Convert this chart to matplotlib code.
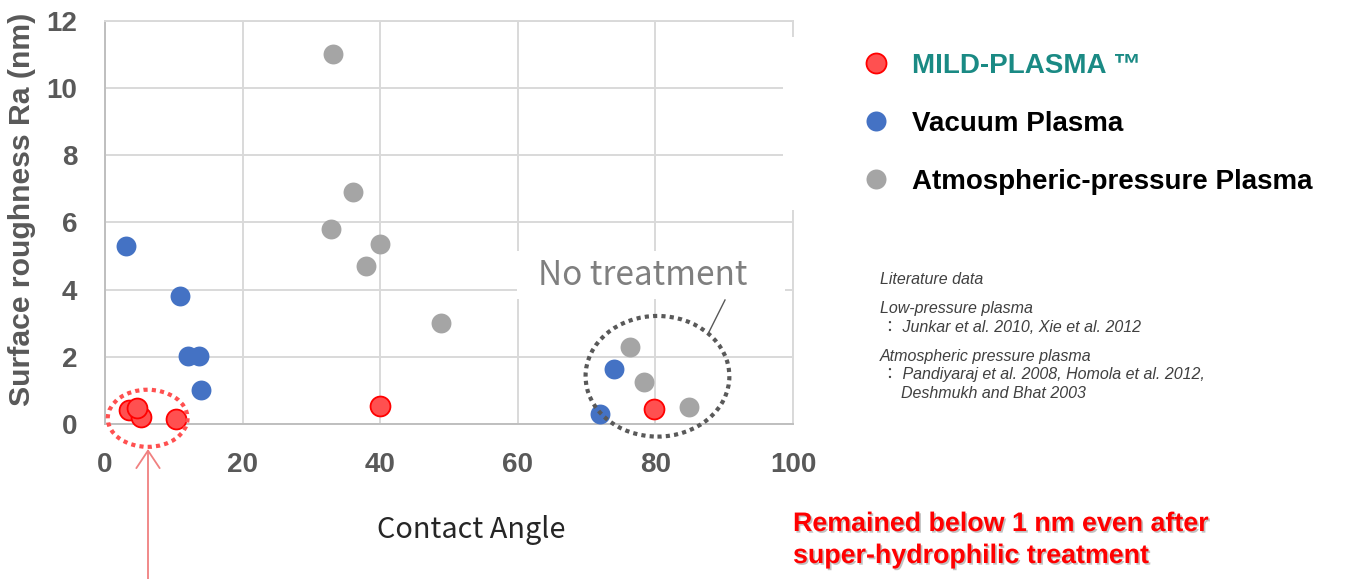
import matplotlib
matplotlib.use("Agg")
import matplotlib.pyplot as plt
import matplotlib.patheffects as pe
from matplotlib.patches import Ellipse, Rectangle, FancyArrowPatch
from matplotlib.lines import Line2D

plt.rcParams['font.family'] = ['Liberation Sans', 'Noto Sans CJK JP', 'DejaVu Sans']

# MILD-PLASMA (this work)
mild_x = [3.5, 5.3, 4.6, 10.3, 40.0, 79.8]
mild_y = [0.43, 0.22, 0.48, 0.16, 0.54, 0.45]
# vacuum (low-pressure) plasma, literature
vac_x = [3.0, 10.9, 12.0, 13.7, 13.95, 74.0, 71.9]
vac_y = [5.3, 3.8, 2.03, 2.03, 1.0, 1.64, 0.29]
# atmospheric-pressure plasma, literature
atm_x = [33.2, 36.1, 32.9, 40.0, 37.9, 48.8, 76.3, 78.3, 84.9]
atm_y = [11.0, 6.9, 5.8, 5.35, 4.7, 3.0, 2.3, 1.25, 0.5]

x_ticks = [0, 20, 40, 60, 80, 100]
y_ticks = [0, 2, 4, 6, 8, 10, 12]

W, H = 1346, 579
fig = plt.figure(figsize=(W / 100, H / 100), dpi=100)


def fx(x):
    return x / W


def fy(y):
    return 1 - y / H


ax = fig.add_axes([fx(105), fy(424), fx(793) - fx(105), fy(20.7) - fy(424)])
ax.set_xlim(0, 100)
ax.set_ylim(0, 12)
ax.set_xticks(x_ticks)
ax.set_yticks(y_ticks)
ax.grid(True, color='#d9d9d9', lw=1.4)
ax.set_axisbelow(True)
for s in ax.spines.values():
    s.set_color('#d9d9d9')
    s.set_linewidth(1.4)
ax.spines['left'].set_color('#bfbfbf')
ax.spines['bottom'].set_color('#bfbfbf')
ax.tick_params(length=0, labelsize=20, labelcolor='#595959', pad=20)
for lab in ax.get_xticklabels() + ax.get_yticklabels():
    lab.set_fontweight('bold')

ms = 205
ax.scatter(atm_x, atm_y, s=ms, color='#a5a5a5', lw=0, zorder=3, clip_on=False)
ax.scatter(vac_x, vac_y, s=ms, color='#4472c4', lw=0, zorder=3, clip_on=False)
ax.scatter(mild_x, mild_y, s=ms, facecolor='#ff5050', edgecolor='#ff0000', lw=1.3,
           zorder=4, clip_on=False)

# dotted ellipses
ax.add_patch(Ellipse((6.2, 0.17), 11.6, 1.7, fill=False, ec='#ff5050', lw=3,
                     ls=(0, (1, 1)), zorder=5, clip_on=False))
ax.add_patch(Ellipse((80.3, 1.42), 20.9, 3.59, fill=False, ec='#595959', lw=3,
                     ls=(0, (1, 1)), zorder=5, clip_on=False))

# "No treatment" callout box
fig.patches.append(Rectangle((fx(517), fy(299)), fx(785) - fx(517), fy(251) - fy(299),
                             transform=fig.transFigure, fc='white', ec='none', zorder=2))
fig.text(fx(643), fy(276), 'No treatment', fontsize=24, color='#7f7f7f',
         family=['Noto Sans CJK JP'], ha='center', va='center', zorder=3)
fig.add_artist(Line2D([fx(725), fx(708)], [fy(300), fy(334)], color='#595959', lw=1))

# white area of the legend box cutting the plot edge
fig.patches.append(Rectangle((fx(783), fy(210)), fx(800) - fx(783), fy(37) - fy(210),
                             transform=fig.transFigure, fc='white', ec='none', zorder=2))

fig.text(fx(471), fy(530), 'Contact Angle', fontsize=20.8, color='#262626',
         family=['Noto Sans CJK JP'], ha='center', va='center')
fig.text(fx(22), fy(209), 'Surface roughness Ra (nm)', fontsize=21.7, fontweight='bold',
         color='#595959', rotation=90, ha='center', va='center')

# legend
handles = [
    Line2D([], [], ls='none', marker='o', ms=14.4, mfc='#ff5050', mec='#ff0000', mew=1.3),
    Line2D([], [], ls='none', marker='o', ms=14.4, mfc='#4472c4', mec='none'),
    Line2D([], [], ls='none', marker='o', ms=14.4, mfc='#a5a5a5', mec='none'),
]
labels = ['MILD-PLASMA \u2122', 'Vacuum Plasma', 'Atmospheric-pressure Plasma']
fig.legend(handles, labels, loc='upper left', bbox_to_anchor=(fx(865), fy(53)),
           frameon=False, borderpad=0, borderaxespad=0, handlelength=0.8,
           handletextpad=0.9, labelspacing=1.15,
           prop={'size': 20, 'weight': 'bold'},
           labelcolor=['#1a8a84', 'black', 'black'])

# literature notes
lit = [
    (880, 280, 'Literature data'),
    (880, 308, 'Low-pressure plasma'),
    (882, 327, '\uff1a Junkar et al. 2010, Xie et al. 2012'),
    (880, 357, 'Atmospheric pressure plasma'),
    (882, 375, '\uff1a Pandiyaraj et al. 2008, Homola et al. 2012,'),
    (901, 393, 'Deshmukh and Bhat 2003'),
]
for x, y, t in lit:
    fig.text(fx(x), fy(y), t, fontsize=11.5, style='italic', color='#404040',
             va='center', ha='left')

# red message
fig.text(fx(793), fy(540), 'Remained below 1 nm even after\nsuper-hydrophilic treatment',
         fontsize=19.3, fontweight='bold', color='#ff0000', va='center', ha='left',
         linespacing=1.3,
         path_effects=[pe.withSimplePatchShadow(offset=(1.2, -1.2), shadow_rgbFace='#999999',
                                                alpha=0.6)])

# arrow pointing up to the MILD-PLASMA cluster
fig.patches.append(FancyArrowPatch((fx(148), fy(579)), (fx(148), fy(449)),
                                   transform=fig.transFigure,
                                   arrowstyle='->,head_length=0.9,head_width=0.6',
                                   mutation_scale=14, color='#f08080', lw=1.3,
                                   shrinkA=0, shrinkB=0))

fig.savefig('out.png', dpi=100)
